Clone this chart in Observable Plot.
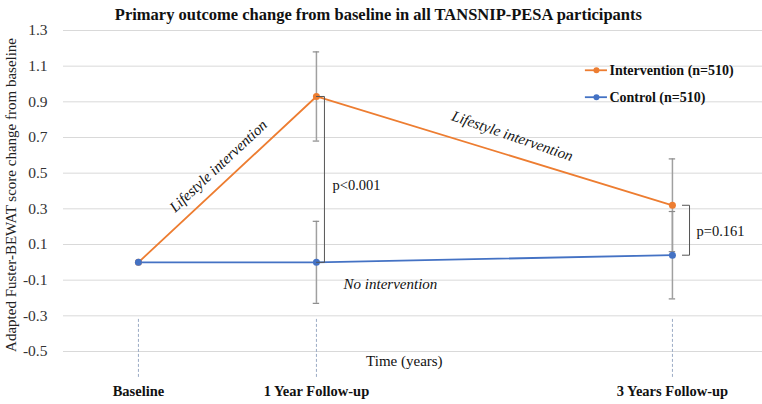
<!DOCTYPE html>
<html>
<head>
<meta charset="utf-8">
<script src="https://cdn.jsdelivr.net/npm/d3@7"></script>
<script src="https://cdn.jsdelivr.net/npm/@observablehq/plot@0.6"></script>
<style>
  html, body { margin: 0; padding: 0; background: #fff; }
  #chart svg { display: block; font-family: "Liberation Serif", "Times New Roman", serif; }
</style>
</head>
<body>
<div id="chart"></div>
<script>
// ---- data ----
const timepoints = [0, 1, 3];
const xLabels = ["Baseline", "1 Year Follow-up", "3 Years Follow-up"];
const interventionMean = [0.0, 0.93, 0.32];
const interventionErr = [null, 0.25, 0.26];
const controlMean = [0.0, 0.0, 0.04];
const controlErr = [null, 0.23, 0.245];
const yTicks = [-0.5, -0.3, -0.1, 0.1, 0.3, 0.5, 0.7, 0.9, 1.1, 1.3];
const seriesNames = ["Intervention (n=510)", "Control (n=510)"];
const seriesColors = ["#ED7D31", "#4472C4"];
const titleText = "Primary outcome change from baseline in all TANSNIP-PESA participants";
const yTitle = "Adapted Fuster-BEWAT score change from baseline";
const xTitle = "Time (years)";
// annotations (data coordinates)
const annotations = [
  {t: 0.449, v: 0.54, text: "Lifestyle intervention", rotate: -43},
  {t: 2.101, v: 0.708, text: "Lifestyle intervention", rotate: 19},
  {t: 1.416, v: -0.125, text: "No intervention", rotate: 0}
];
const pValues = [
  {t: 1.09, v: 0.434, text: "p<0.001"},
  {t: 3.135, v: 0.171, text: "p=0.161"}
];
const brackets = [
  [{t: 1.0, v: 0.93}, {t: 1.045, v: 0.93}, {t: 1.045, v: 0.0}, {t: 1.0, v: 0.0}],
  [{t: 3.056, v: 0.32}, {t: 3.096, v: 0.32}, {t: 3.096, v: 0.04}, {t: 3.056, v: 0.04}]
];
const dropLineRange = [-0.32, -0.655];
const legendPos = [{t1: 2.511, t2: 2.635, v: 1.077}, {t1: 2.511, t2: 2.635, v: 0.926}];

// ---- build tables ----
const series = [
  {name: seriesNames[0], mean: interventionMean, err: interventionErr, color: seriesColors[0]},
  {name: seriesNames[1], mean: controlMean, err: controlErr, color: seriesColors[1]}
];
const points = series.flatMap(s => timepoints.map((t, i) => ({t, v: s.mean[i], e: s.err[i], name: s.name, color: s.color})));
const errs = points.filter(d => d.e != null).map(d => ({...d, lo: d.v - d.e, hi: d.v + d.e}));
const caps = errs.flatMap(d => [{t: d.t, v: d.lo}, {t: d.t, v: d.hi}]);
const capW = 0.018;
const xlab = timepoints.map((t, i) => ({t, label: xLabels[i]}));
const legend = series.map((s, i) => ({...legendPos[i], name: s.name, color: s.color}));
const bracketRows = brackets.flatMap((b, k) => b.map(p => ({...p, k})));

const serif = "Liberation Serif";

const plot = Plot.plot({
  width: 762,
  height: 404,
  marginTop: 30,
  marginBottom: 53,
  marginLeft: 63,
  marginRight: 0,
  style: {fontFamily: serif, background: "#fff", overflow: "visible"},
  x: {domain: [-0.421, 3.506], axis: null},
  y: {domain: [-0.5, 1.3], axis: null},
  marks: [
    Plot.gridY(yTicks, {stroke: "#d9d9d9", strokeOpacity: 1, strokeWidth: 1}),
    Plot.text(yTicks, {y: d => d, text: d => d.toFixed(1), frameAnchor: "left", textAnchor: "end", dx: -16, fontSize: 15.5, fill: "#333"}),
    Plot.ruleX(timepoints, {x: d => d, y1: dropLineRange[0], y2: dropLineRange[1], stroke: "#9aaac4", strokeDasharray: "3,2", strokeWidth: 1}),
    Plot.ruleX(errs, {x: "t", y1: "lo", y2: "hi", stroke: "#a0a0a0", strokeWidth: 1.5}),
    Plot.ruleY(caps, {y: "v", x1: d => d.t - capW, x2: d => d.t + capW, stroke: "#8a8a8a", strokeWidth: 1.2}),
    Plot.line(points, {x: "t", y: "v", z: "name", stroke: "color", strokeWidth: 1.8}),
    Plot.dot(points, {x: "t", y: "v", fill: "color", r: 3.5}),
    Plot.line(bracketRows, {x: "t", y: "v", z: "k", stroke: "#555", strokeWidth: 1}),
    Plot.text(annotations, {x: "t", y: "v", text: "text", rotate: "rotate", fontStyle: "italic", fontSize: 15, fill: "#111"}),
    Plot.text(pValues, {x: "t", y: "v", text: "text", textAnchor: "start", fontSize: 14.5, fill: "#111"}),
    Plot.text([xTitle], {x: 1.494, y: -0.555, text: d => d, fontSize: 15, fill: "#111"}),
    Plot.text(xlab, {x: "t", text: "label", frameAnchor: "bottom", dy: 44, fontWeight: "bold", fontSize: 14.5, fill: "#111"}),
    Plot.text([titleText], {x: 1.348, text: d => d, frameAnchor: "top", dy: -22, fontWeight: "bold", fontSize: 16.5, fill: "#111"}),
    Plot.text([yTitle], {y: 0.378, text: d => d, frameAnchor: "left", textAnchor: "middle", dx: -52, rotate: -90, fontSize: 15, fill: "#222"}),
    // legend
    Plot.ruleY(legend, {y: "v", x1: "t1", x2: "t2", stroke: "color", strokeWidth: 1.8}),
    Plot.dot(legend, {x: d => (d.t1 + d.t2) / 2, y: "v", fill: "color", r: 3}),
    Plot.text(legend, {x: "t2", y: "v", text: "name", textAnchor: "start", dx: 2, fontWeight: "bold", fontSize: 14, fill: "#111"})
  ]
});
document.getElementById("chart").appendChild(plot);
</script>
</body>
</html>
